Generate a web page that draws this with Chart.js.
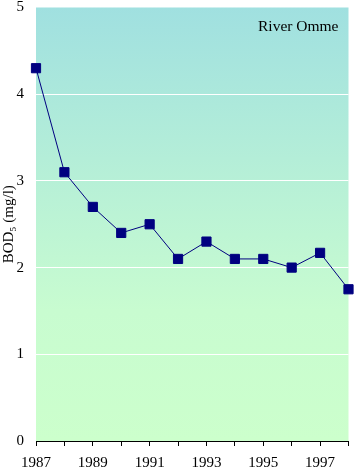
<!DOCTYPE html>
<html><head><meta charset="utf-8">
<script src="https://cdn.jsdelivr.net/npm/chart.js@4"></script>
<style>html,body{margin:0;padding:0;background:#fff}#wrap{width:356px;height:471px}</style>
</head><body><div id="wrap"><canvas id="c" width="356" height="471"></canvas></div>
<script>
const years = [1987,1988,1989,1990,1991,1992,1993,1994,1995,1996,1997,1998];
const bod = [4.3,3.1,2.7,2.4,2.5,2.1,2.3,2.1,2.1,2.0,2.17,1.75];
const yTicks = [0,1,2,3,4,5];
const seriesLabel = 'River Omme';
const yTitle = 'BOD\u2085 (mg/l)';

const bgPlugin = {
  id: 'bg',
  beforeDraw(chart) {
    const {ctx, chartArea: a} = chart;
    const g = ctx.createLinearGradient(0, a.top, 0, a.bottom);
    g.addColorStop(0, '#a0e0e0');
    g.addColorStop(0.7, '#c8fcd0');
    g.addColorStop(1, '#ccffcc');
    ctx.save(); ctx.fillStyle = g; ctx.fillRect(a.left, a.top, a.right - a.left, a.bottom - a.top); ctx.restore();
  },
  afterDraw(chart) {
    const {ctx, chartArea: a} = chart;
    ctx.save();
    ctx.font = '15.5px "Liberation Serif", serif';
    ctx.fillStyle = '#000';
    ctx.textAlign = 'right'; ctx.textBaseline = 'middle';
    ctx.fillText(seriesLabel, a.right - 10, a.top + 19);
    ctx.restore();
  }
};

new Chart(document.getElementById('c'), {
  type: 'line',
  data: { datasets: [{ label: seriesLabel, data: years.map((y,i)=>({x:y,y:bod[i]})),
    borderColor: '#000080', backgroundColor: '#000080', borderWidth: 1,
    pointStyle: 'rect', pointRadius: 6.5, pointHoverRadius: 6.5, tension: 0, clip: false }] },
  options: {
    responsive: false, animation: false, devicePixelRatio: 1,
    layout: { padding: { top: 7, right: 6, left: 0, bottom: 0 } },
    plugins: { legend: { display: false }, tooltip: { enabled: false } },
    scales: {
      x: { type: 'linear', min: 1987, max: 1998,
        afterFit(s){ s.height = 30; s.paddingLeft = 0; s.paddingRight = 0; },
        border: { display: true, color: '#000', width: 1 },
        grid: { drawOnChartArea: false, drawTicks: true, tickLength: 5, color: '#000' },
        ticks: { stepSize: 1, autoSkip: false, maxRotation: 0, padding: 8, color: '#000',
          font: { family: '"Liberation Serif", serif', size: 15 },
          callback: v => (v % 2 === 1 && v < 1998) ? String(v) : '' } },
      y: { min: 0, max: 5,
        afterFit(s){ s.width = 36; s.paddingTop = 0; s.paddingBottom = 0; },
        afterBuildTicks(s){ s.ticks = yTicks.map(v=>({value:v})); },
        border: { display: false },
        grid: { drawTicks: false, color: c => (c.tick.value === 0 || c.tick.value === 5) ? 'rgba(0,0,0,0)' : '#ffffff', lineWidth: 1 },
        title: { display: true, text: yTitle, color: '#000', padding: 0,
          font: { family: '"Liberation Serif", serif', size: 15 } },
        ticks: { padding: 12, color: '#000', font: { family: '"Liberation Serif", serif', size: 15 } } }
    }
  },
  plugins: [bgPlugin]
});
</script></body></html>
